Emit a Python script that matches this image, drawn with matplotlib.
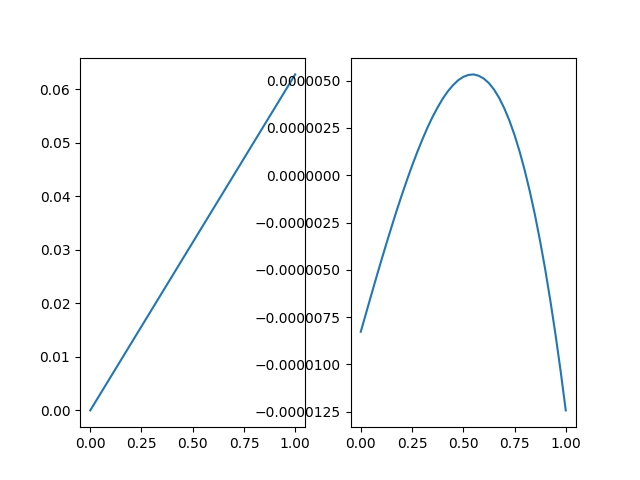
import matplotlib
matplotlib.use("Agg")
from matplotlib import pyplot as plt

# left panel: straight line
x_left = [0.0, 1.0]
y_left = [0.0, 0.0628]

# right panel: values (units of 1e-6)
x_right = [0.0, 0.025, 0.05, 0.075, 0.1, 0.125, 0.15, 0.175, 0.2, 0.225,
           0.25, 0.275, 0.3, 0.325, 0.35, 0.375, 0.4, 0.425, 0.45, 0.475,
           0.5, 0.525, 0.55, 0.575, 0.6, 0.625, 0.65, 0.675, 0.7, 0.725,
           0.75, 0.775, 0.8, 0.825, 0.85, 0.875, 0.9, 0.925, 0.95, 0.975, 1.0]
y_right_e6 = [-8.27, -7.32, -6.37, -5.43, -4.51, -3.61, -2.73, -1.87, -1.05, -0.26,
              0.50, 1.21, 1.88, 2.51, 3.08, 3.59, 4.05, 4.44, 4.76, 5.02,
              5.20, 5.30, 5.33, 5.26, 5.11, 4.87, 4.53, 4.09, 3.54, 2.89,
              2.13, 1.25, 0.25, -0.87, -2.11, -3.49, -4.99, -6.64, -8.42, -10.35, -12.43]
y_right = [v * 1e-6 for v in y_right_e6]

fig, (ax1, ax2) = plt.subplots(1, 2, figsize=(6.4, 4.8), dpi=100)

ax1.plot(x_left, y_left)
ax2.plot(x_right, y_right)
ax2.ticklabel_format(axis='y', style='plain', useOffset=False)

fig.savefig('out.png')
